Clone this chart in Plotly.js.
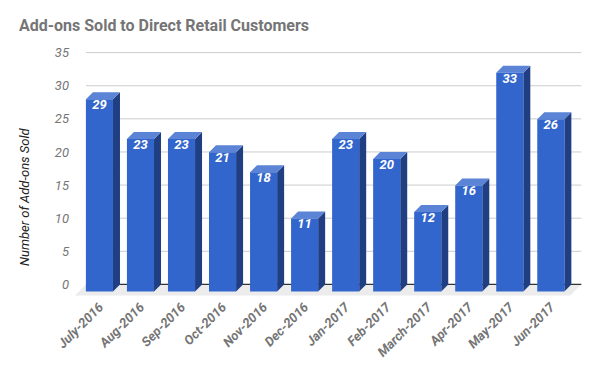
<!DOCTYPE html>
<html><head><meta charset="utf-8">
<script src="https://cdn.plot.ly/plotly-3.0.1.min.js"></script>
<style>html,body{margin:0;padding:0;background:#fff}#chart{width:600px;height:371px}</style>
</head><body><div id="chart"></div>
<script>
var categories = ["July-2016","Aug-2016","Sep-2016","Oct-2016","Nov-2016","Dec-2016","Jan-2017","Feb-2017","March-2017","Apr-2017","May-2017","Jun-2017"];
var sold = [29,23,23,21,18,11,23,20,12,16,33,26];
var yTicks = [0,5,10,15,20,25,30,35];

(function () {
var W = 600, H = 371;
var mL = 74, mR = 18, mT = 46, mB = 75;
var xr = [-0.62, 11.76], yr = [-1.75, 36];
var pxX = (W - mL - mR) / (xr[1] - xr[0]);
var pxY = (H - mT - mB) / (yr[1] - yr[0]);
var dx = 7 / pxX, dy = 7 / pxY;      // bar depth in data units
var half = 0.33;                       // half bar width
var fdx = 11 / pxX, fdy = 11 / pxY;    // floor depth
var backL = -0.5 + dx, backR = 11.5 + dx + 3 / pxX;

var frontF = {x: [], y: []}, topF = {x: [], y: []}, sideF = {x: [], y: []};
sold.forEach(function (v, i) {
  var x0 = i - half, x1 = i + half, yb = -dy, yt = v - dy;
  frontF.x.push(x0, x1, x1, x0, x0, null); frontF.y.push(yb, yb, yt, yt, yb, null);
  topF.x.push(x0, x1, x1 + dx, x0 + dx, x0, null); topF.y.push(yt, yt, v, v, yt, null);
  sideF.x.push(x1, x1 + dx, x1 + dx, x1, x1, null); sideF.y.push(yb, 0, v, yt, yb, null);
});

var traces = [];
traces.push({x: [backL, backR, backR - fdx, backL - fdx, backL], y: [0, 0, -fdy, -fdy, 0],
  type: 'scatter', mode: 'lines', fill: 'toself', fillcolor: '#ececec', line: {width: 0}, hoverinfo: 'skip'});
var gx = [], gy = [];
yTicks.forEach(function (t) { if (t > 0) { gx.push(backL, backR, null); gy.push(t, t, null); } });
traces.push({x: gx, y: gy, type: 'scatter', mode: 'lines', line: {color: '#cccccc', width: 1}, hoverinfo: 'skip'});
traces.push({x: [backL, backR], y: [0, 0], type: 'scatter', mode: 'lines', line: {color: '#333333', width: 1.2}, hoverinfo: 'skip'});
traces.push({x: sideF.x, y: sideF.y, type: 'scatter', mode: 'lines', fill: 'toself', fillcolor: '#203f82', line: {width: 0}, hoverinfo: 'skip'});
traces.push({x: topF.x, y: topF.y, type: 'scatter', mode: 'lines', fill: 'toself', fillcolor: '#5b84d6', line: {width: 0}, hoverinfo: 'skip'});
traces.push({x: frontF.x, y: frontF.y, type: 'scatter', mode: 'lines', fill: 'toself', fillcolor: '#3366cc', line: {width: 0}, hoverinfo: 'skip'});
traces.push({x: sold.map(function (v, i) { return i; }), y: sold.map(function (v) { return v - dy; }),
  text: sold.map(String), type: 'scatter', mode: 'text', textposition: 'bottom center',
  textfont: {family: 'Roboto', size: 13, color: '#ffffff', weight: 'bold', style: 'italic'}, hoverinfo: 'skip', cliponaxis: false});

var layout = {
  width: W, height: H, showlegend: false,
  paper_bgcolor: '#ffffff', plot_bgcolor: 'rgba(0,0,0,0)',
  margin: {l: mL, r: mR, t: mT, b: mB},
  font: {family: 'Roboto'},
  title: {text: 'Add-ons Sold to Direct Retail Customers', xref: 'container', yref: 'container',
    x: 19 / W, xanchor: 'left', y: 1 - 25 / H, yanchor: 'middle',
    font: {family: 'Roboto', size: 16, color: '#757575', weight: 'bold'}},
  xaxis: {range: xr, tickvals: categories.map(function (c, i) { return i; }), ticktext: categories,
    tickangle: -45, showgrid: false, zeroline: false, showline: false, ticks: '',
    tickfont: {family: 'Roboto', size: 13, color: '#757575', weight: 'bold', style: 'italic'}},
  yaxis: {range: yr, tickvals: yTicks, ticktext: yTicks.map(String), showgrid: false, zeroline: false,
    showline: false, ticks: '', ticklabelstandoff: 4,
    tickfont: {family: 'Roboto', size: 13, color: '#757575', style: 'italic'}},
  annotations: [{text: 'Number of Add-ons Sold', xref: 'paper', yref: 'paper',
    x: (24 - mL) / (W - mL - mR), y: ((H - mB) - 197) / (H - mT - mB), textangle: -90,
    showarrow: false, xanchor: 'center', yanchor: 'middle',
    font: {family: 'Roboto', size: 13, color: '#222222', style: 'italic'}}]
};
Plotly.newPlot('chart', traces, layout, {staticPlot: true, displayModeBar: false});
})();
</script></body></html>
